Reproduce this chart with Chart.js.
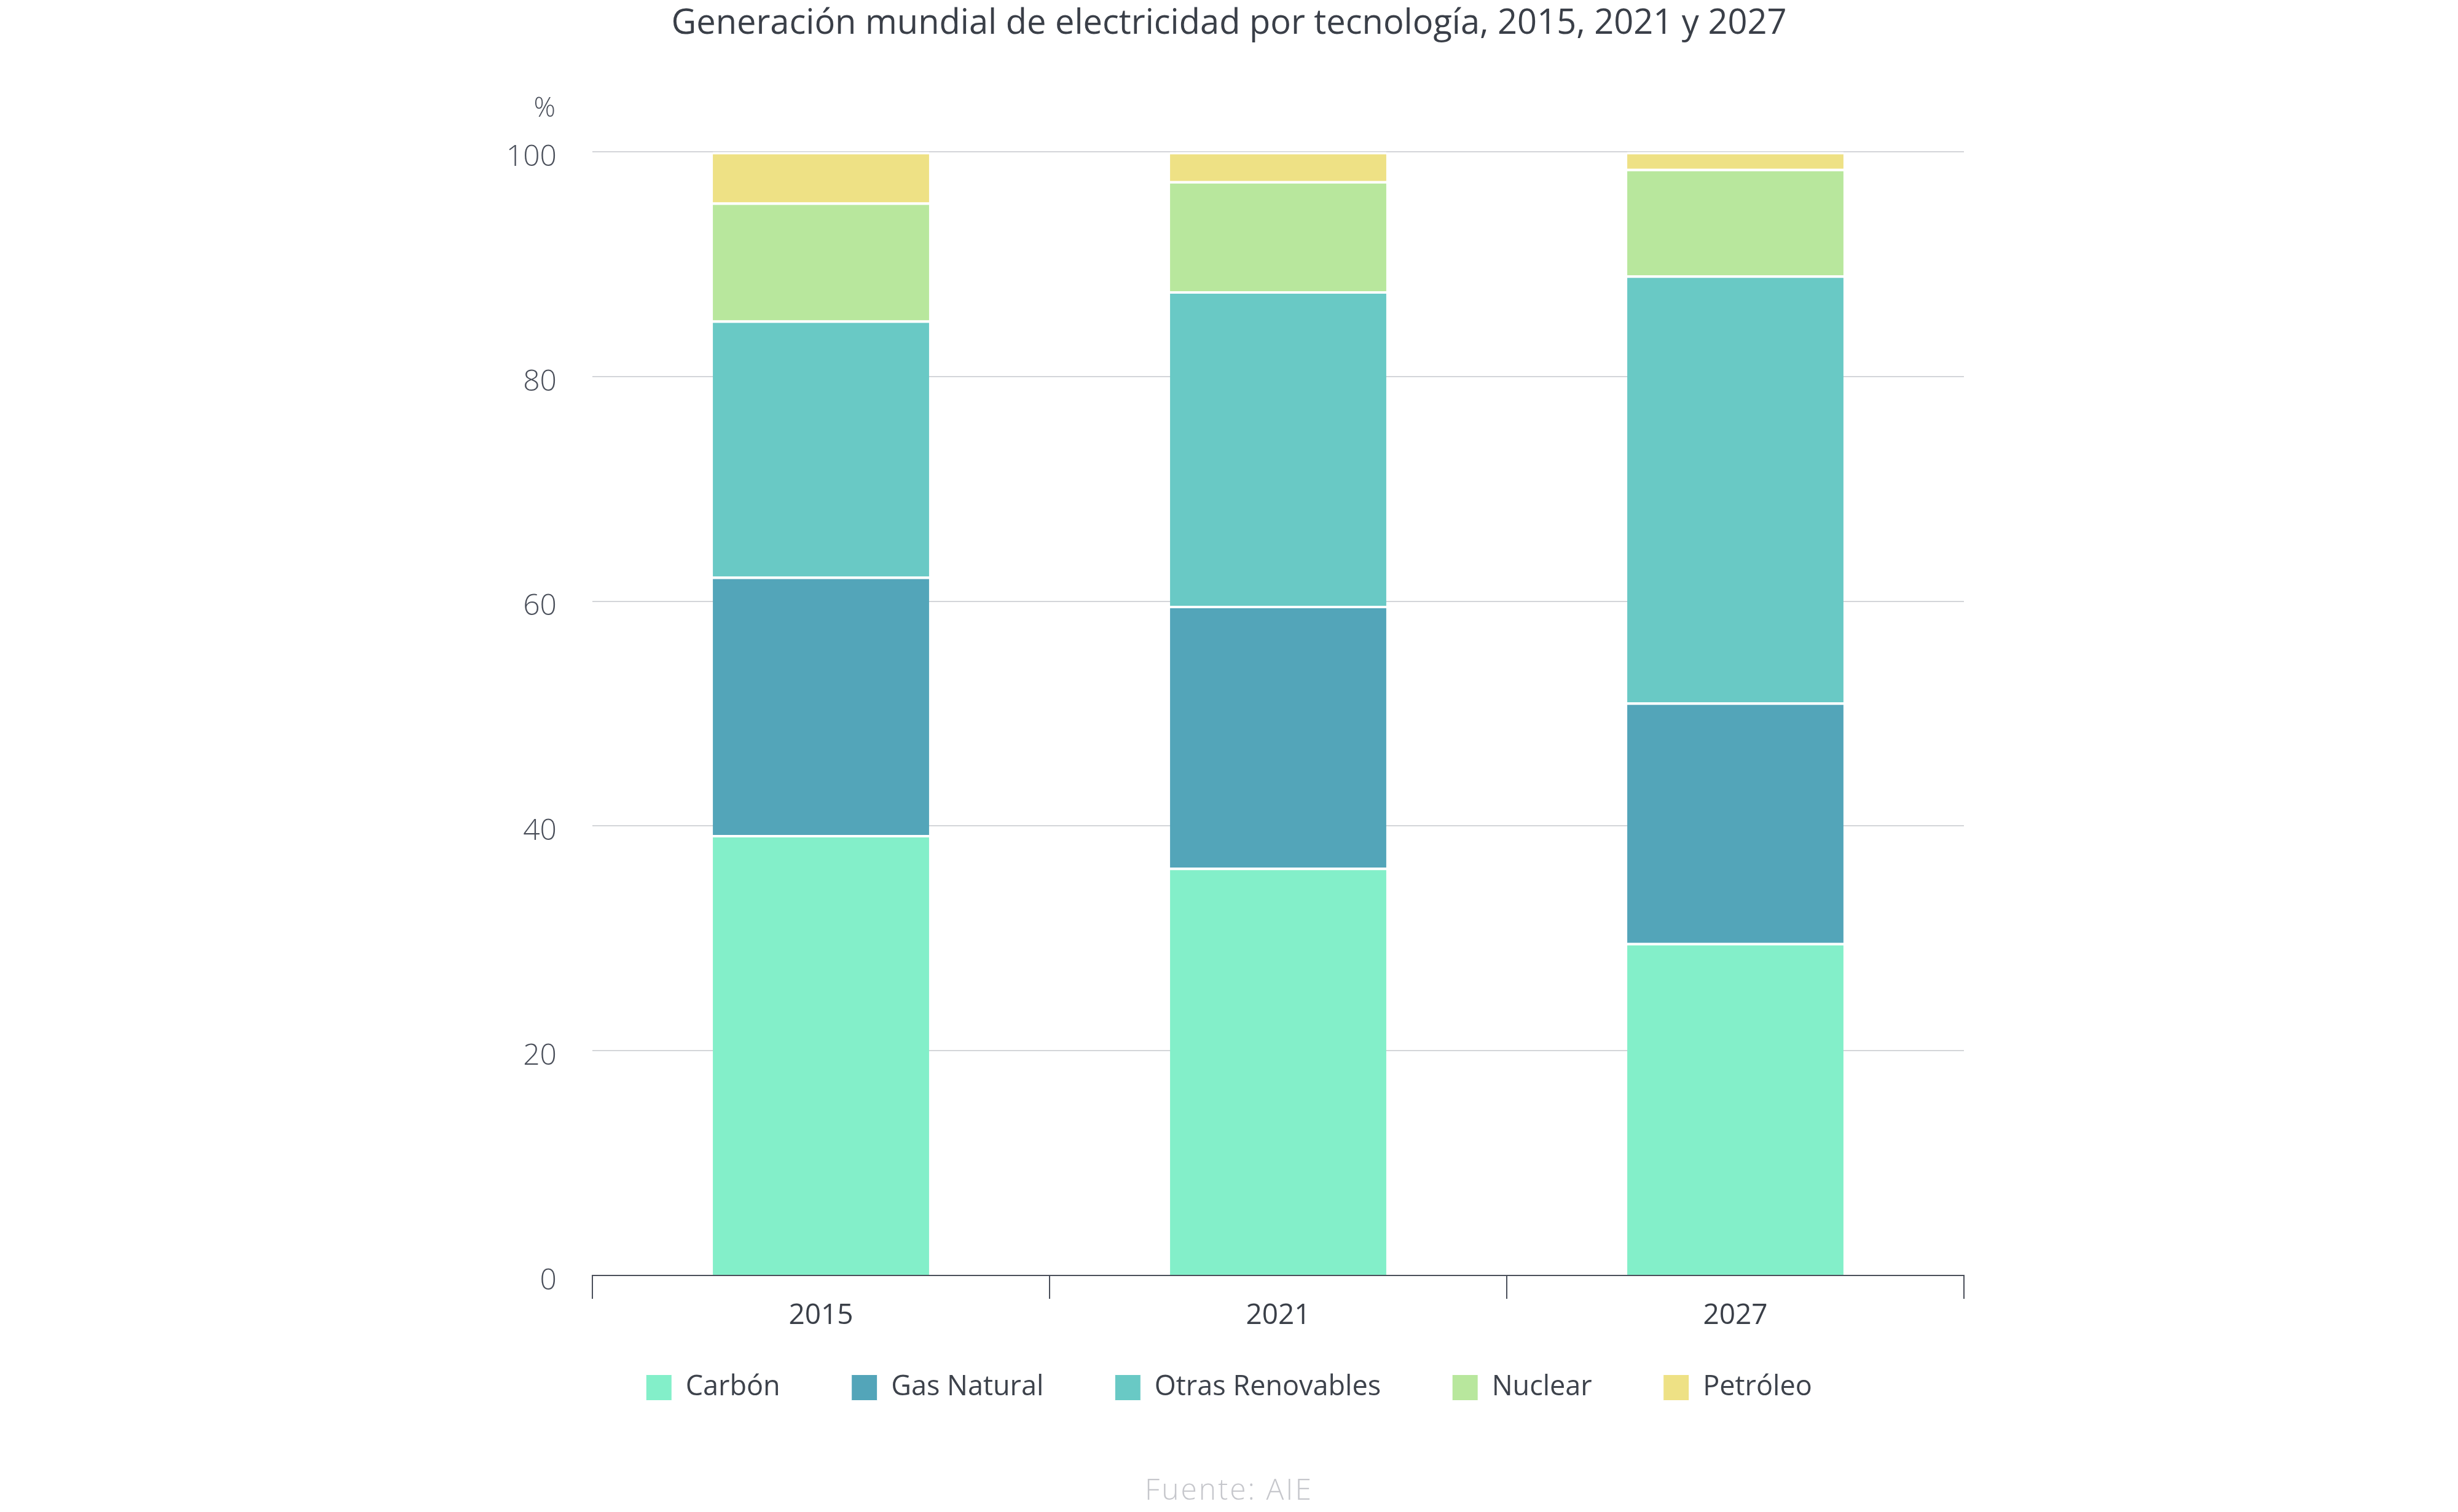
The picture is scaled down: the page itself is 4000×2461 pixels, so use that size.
<!DOCTYPE html>
<html>
<head>
<meta charset="utf-8">
<script src="https://cdn.jsdelivr.net/npm/chart.js@4"></script>
<style>
  html, body { margin: 0; padding: 0; background: #ffffff; }
  #wrap { width: 4000px; height: 2461px; }
</style>
</head>
<body>
<div id="wrap"><canvas id="c" width="4000" height="2461"></canvas></div>
<script>
const categories = ['2015', '2021', '2027'];
const seriesNames = ['Carbón', 'Gas Natural', 'Otras Renovables', 'Nuclear', 'Petróleo'];
const carbon = [39.2, 36.3, 29.6];
const gasNatural = [23.0, 23.3, 21.4];
const otrasRenovables = [22.8, 28.0, 38.0];
const nuclear = [10.5, 9.8, 9.5];
const petroleo = [4.5, 2.6, 1.5];
const yTicks = [0, 20, 40, 60, 80, 100];
const titleText = 'Generación mundial de electricidad por tecnología, 2015, 2021 y 2027';
const sourceText = 'Fuente: AIE';
const unitText = '%';

const colors = ['#83efc9', '#53a5b9', '#69c9c5', '#b8e79d', '#eee185'];
const seriesValues = [carbon, gasNatural, otrasRenovables, nuclear, petroleo];

const FONT = "'Open Sans', 'DejaVu Sans', sans-serif";

const extrasPlugin = {
  id: 'extras',
  afterLayout(chart) {
    // let the category labels below the short x-axis box remain visible
    const x = chart.scales.x;
    x.bottom = x.top + 120;
  },
  afterDraw(chart) {
    const ctx = chart.ctx;
    const y = chart.scales.y;
    ctx.save();
    ctx.fillStyle = '#4a4f5a';
    ctx.font = '300 44px ' + FONT;
    ctx.textAlign = 'right';
    ctx.textBaseline = 'middle';
    ctx.fillText(unitText, y.right - 60, chart.chartArea.top - 70);
    ctx.fillStyle = '#c6c7cc';
    ctx.font = '300 48px ' + FONT;
    try { ctx.letterSpacing = '3px'; } catch (e) {}
    ctx.textAlign = 'center';
    ctx.fillText(sourceText, chart.width / 2, chart.height - 34);
    ctx.restore();
  }
};

new Chart(document.getElementById('c'), {
  type: 'bar',
  data: {
    labels: categories,
    datasets: seriesNames.map((name, i) => ({
      label: name,
      data: seriesValues[i],
      backgroundColor: colors[i],
      borderColor: '#ffffff',
      borderWidth: { top: 4, right: 0, bottom: 0, left: 0 },
      borderSkipped: false,
      categoryPercentage: 1.0,
      barPercentage: 0.473
    }))
  },
  options: {
    responsive: false,
    animation: false,
    devicePixelRatio: 1,
    layout: { padding: { left: 804, right: 804, top: 0, bottom: 170 } },
    plugins: {
      title: {
        display: true,
        text: titleText,
        color: '#3a3f48',
        font: { family: FONT, size: 56, weight: '400', lineHeight: 1.2 },
        padding: { top: 5, bottom: 175 }
      },
      legend: {
        display: true,
        position: 'bottom',
        labels: {
          color: '#3d424b',
          font: { family: FONT, size: 45, weight: '400' },
          boxWidth: 42,
          boxHeight: 42,
          padding: 116
        }
      },
      tooltip: { enabled: false }
    },
    scales: {
      x: {
        stacked: true,
        offset: true,
        afterFit(scale) { scale.height = 44; },
        grid: {
          offset: true,
          drawOnChartArea: false,
          drawTicks: true,
          tickLength: 38,
          color: '#4a4f5a',
          lineWidth: 2
        },
        border: { display: true, color: '#4a4f5a', width: 2 },
        ticks: {
          color: '#3a3f48',
          font: { family: FONT, size: 46, weight: '400' },
          padding: 0
        }
      },
      y: {
        stacked: true,
        min: 0,
        max: 100,
        afterFit(scale) { scale.width = 160; },
        afterBuildTicks(scale) { scale.ticks = yTicks.map(v => ({ value: v })); },
        grid: {
          drawTicks: false,
          color: '#d3d5d9',
          lineWidth: 2
        },
        border: { display: false },
        ticks: {
          color: '#4a4f5a',
          font: { family: FONT, size: 48, weight: '300' },
          padding: 58,
          labelOffset: 9
        }
      }
    }
  },
  plugins: [extrasPlugin]
});
</script>
</body>
</html>
